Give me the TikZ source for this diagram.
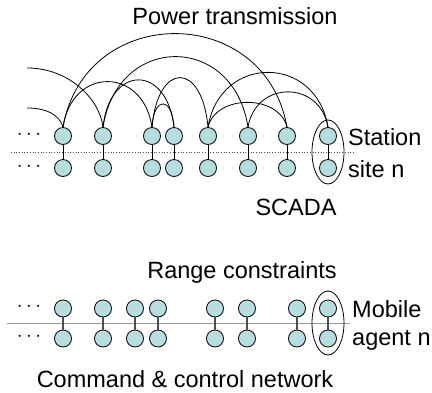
\documentclass[tikz,border=0pt]{standalone}
\usepackage{fontspec}
\setmainfont{Liberation Sans}
\usetikzlibrary{shapes.geometric}
\definecolor{nodefill}{HTML}{B8DDE0}
\begin{document}
\begin{tikzpicture}[x=1bp,y=-1bp,
  agent/.style={circle,draw=black,line width=0.8bp,fill=nodefill,minimum size=17bp,inner sep=0pt},
  arc/.style={draw=black,line width=0.8bp},
  toplink/.style={draw=black,line width=0.9bp},
  botlink/.style={draw=black!70,line width=1.4bp},
  lbl/.style={font=\fontsize{23.5bp}{28bp}\selectfont,inner sep=0pt},
  dots/.style={font=\fontsize{22bp}{24bp}\selectfont,inner sep=0pt},
  grp/.style={ellipse,draw=black,line width=0.8bp,minimum width=32bp,minimum height=64bp,inner sep=0pt}
]
\useasboundingbox (0,0) rectangle (432,393);
% ---------- SCADA / power ----------
\draw[dotted,black!70,line width=0.7bp] (11,152) -- (353,152);
\foreach \i/\x in {1/63,2/103,3/152,4/174,5/208,6/248,7/287,8/328}{
  \node[agent] (t\i) at (\x,136) {};
  \node[agent] (b\i) at (\x,168) {};
  \draw[toplink] (t\i) -- (b\i);
}
\node[grp] (g1) at (328,152) {};
\node[dots] (d1) at (29,135) {$\cdots$};
\node[dots] (d2) at (29,167) {$\cdots$};
\node[lbl,anchor=west] (st1) at (348,137) {Station};
\node[lbl,anchor=west] (st2) at (348,169) {site n};
\node[lbl] (pt) at (235,16) {Power transmission};
\node[lbl] (sc) at (296,207) {SCADA};
\coordinate (l1) at (27,68);
\coordinate (l2) at (27,108);
\draw[arc] (l1) .. controls (70,68) and (100,100) .. (t2.north);
\draw[arc] (l2) .. controls (48,108) and (60,116) .. (t1.north);
\draw[arc] (t1.north) .. controls +(22,-124.7) and +(-22,-124.7) .. (t7.north);
\draw[arc] (t2.north) .. controls +(14.5,-94) and +(-14.5,-94) .. (t6.north);
\draw[arc] (t1.north) .. controls +(9,-60.7) and +(-9,-60.7) .. (t3.north);
\draw[arc] (t2.north) .. controls +(7,-63) and +(-7,-63) .. (t4.north);
\draw[arc] (t3.north) .. controls +(2,-31) and +(-2,-31) .. (t4.north);
\draw[arc] (t3.north) .. controls +(6,-66) and +(-6,-66) .. (t5.north);
\draw[arc] (t5.north) .. controls +(12,-73) and +(-12,-73) .. (t8.north);
\draw[arc] (t5.north) .. controls +(8,-33) and +(-8,-33) .. (t7.north);
\draw[arc] (t6.north) .. controls +(8,-47) and +(-8,-47) .. (t8.north);
% ---------- Mobile agents ----------
\draw[black!40,line width=0.7bp] (7,323) -- (350,323);
\foreach \i/\x in {1/63,2/103,3/135,4/158,5/215,6/247,7/297,8/328}{
  \node[agent] (mt\i) at (\x,308.5) {};
  \node[agent] (mb\i) at (\x,338.5) {};
  \draw[botlink] (mt\i) -- (mb\i);
}
\node[grp] (g2) at (328,323) {};
\node[dots] (d3) at (29,307) {$\cdots$};
\node[dots] (d4) at (29,337) {$\cdots$};
\node[lbl,anchor=west] (mo1) at (352,309) {Mobile};
\node[lbl,anchor=west] (mo2) at (352,340) {agent n};
\node[lbl] (rc) at (242,272) {Range constraints};
\node[lbl] (cc) at (185,379) {Command \& control network};
\end{tikzpicture}
\end{document}
